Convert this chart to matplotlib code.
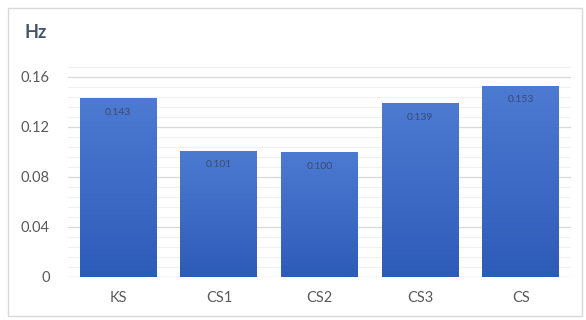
import matplotlib
matplotlib.use("Agg")
import matplotlib.pyplot as plt
import numpy as np
from matplotlib.patches import Rectangle
from matplotlib.colors import LinearSegmentedColormap

categories = ["KS", "CS1", "CS2", "CS3", "CS"]
values = [0.143, 0.101, 0.100, 0.139, 0.153]
value_labels = ["0.143", "0.101", "0.100", "0.139", "0.153"]
yticks = [0, 0.04, 0.08, 0.12, 0.16]
ytick_labels = ["0", "0.04", "0.08", "0.12", "0.16"]

plt.rcParams['font.family'] = ['Lato', 'DejaVu Sans']

fig = plt.figure(figsize=(5.86, 3.2), dpi=100)
fig.patch.set_facecolor("white")
fig.add_artist(Rectangle((8/586, 4/320), 574/586, 308/320, transform=fig.transFigure,
                         fill=False, edgecolor="#d9d9d9", linewidth=1.0))

ax = fig.add_axes([68/586, 1-277/320, 503/586, 220/320])
x = np.arange(len(categories))

for v in np.arange(0.008, 0.176, 0.008):
    ax.axhline(v, color="#f0f0f0", linewidth=0.8, zorder=0)
for v in yticks[1:]:
    ax.axhline(v, color="#d9d9d9", linewidth=0.9, zorder=0.5)
ax.axhline(0, color="#d9d9d9", linewidth=1.0, zorder=0.5)

bars = ax.bar(x, values, width=0.765, color="none", zorder=2)
grad = np.linspace(0, 1, 256).reshape(-1, 1)
cmap = LinearSegmentedColormap.from_list("g", ["#2d5bb8", "#4d7bd2"])
for b in bars:
    x0, w, h = b.get_x(), b.get_width(), b.get_height()
    im = ax.imshow(grad, extent=(x0, x0 + w, 0, h), origin="lower", aspect="auto",
                   cmap=cmap, zorder=2)
    im.set_clip_path(b)
ax.set_aspect("auto")
ax.set_xlim(-0.5, len(categories) - 0.5)
ax.set_ylim(0, 0.176)

for xi, v, lab in zip(x, values, value_labels):
    ax.annotate(lab, (xi, v), xytext=(0, -7), textcoords="offset points",
                ha="center", va="top", fontsize=7.5, color="#3a4a70", zorder=3)

ax.set_xticks(x)
ax.set_xticklabels(categories, fontsize=10.5, color="#595959")
ax.set_yticks(yticks)
ax.set_yticklabels(ytick_labels, fontsize=10.5, color="#595959")
ax.tick_params(length=0)
ax.tick_params(axis="y", pad=13)
ax.tick_params(axis="x", pad=10)
for s in ax.spines.values():
    s.set_visible(False)

fig.text(24/586, 1-33/320, "Hz", fontsize=13, fontweight="bold", color="#44546a",
         ha="left", va="center")

fig.savefig("out.png", dpi=100)
